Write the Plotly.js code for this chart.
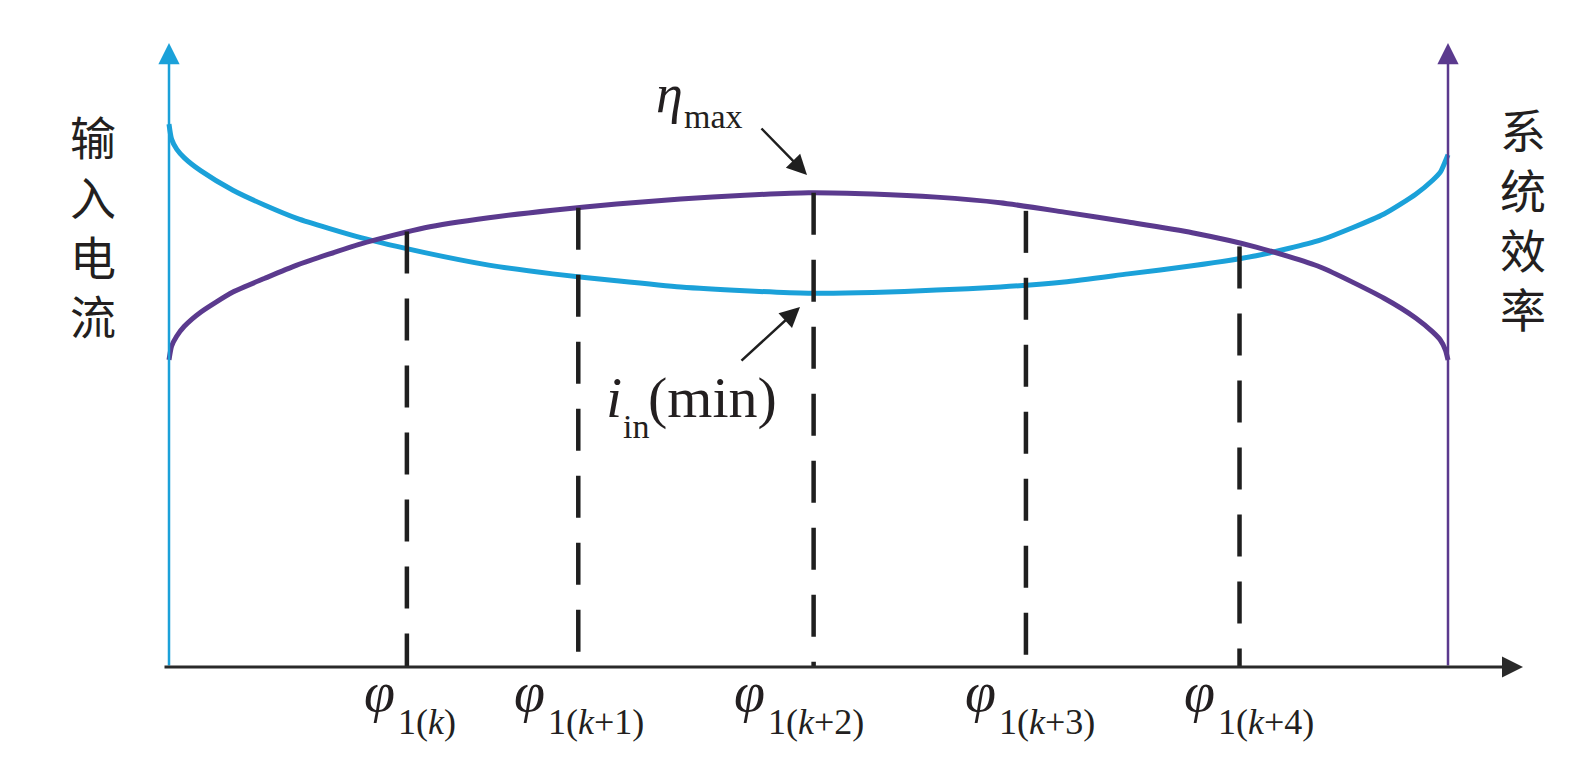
<!DOCTYPE html>
<html><head><meta charset="utf-8">
<script src="https://cdn.plot.ly/plotly-3.0.1.min.js"></script>
<style>html,body{margin:0;padding:0;background:#fff;} #chart{width:1592px;height:763px;}</style>
</head><body><div id="chart"></div>
<script>
// ---- data (phi in axis units: left axis = 0, right axis = 10) ----
const phiGrid = [0,0.02,0.06,0.12,0.25,0.5,0.75,1,1.5,2,2.5,3,3.5,4,4.5,5,5.5,6,6.5,7,7.5,8,8.5,9,9.5,9.75,9.88,9.94,9.98,10];
const inputCurrent = [8.70,8.46,8.30,8.16,7.95,7.64,7.40,7.19,6.88,6.64,6.44,6.30,6.19,6.09,6.03,5.99,6.00,6.04,6.09,6.17,6.30,6.43,6.59,6.84,7.26,7.58,7.80,7.93,8.11,8.21];
const efficiency   = [4.92,5.14,5.30,5.46,5.69,6.01,6.23,6.44,6.78,7.04,7.20,7.32,7.42,7.50,7.56,7.60,7.58,7.53,7.44,7.29,7.13,6.96,6.73,6.41,5.91,5.59,5.37,5.24,5.08,4.92];
const markPhi = [1.86, 3.20, 5.04, 6.70, 8.37];
const markEta = [6.98, 7.36, 7.60, 7.31, 6.74];
const markLabels = ['1(<i>k</i>)','1(<i>k</i>+1)','1(<i>k</i>+2)','1(<i>k</i>+3)','1(<i>k</i>+4)'];
const leftTitle = ['输','入','电','流'];
const rightTitle = ['系','统','效','率'];

// ---- layout geometry ----
const W = 1592, H = 763;
const X0 = 169, UX = 127.9;   // px of phi=0, px per unit
const Y0 = 667, UY = 62.4;    // px of value 0, px per unit
const X = px => (px - X0) / UX;
const Y = py => (Y0 - py) / UY;
const labelShiftPx = [-44, -65, -81, -62, -57];  // left edge of each phi label relative to its line

const cBlue = '#1ba1d9', cPurple = '#5b3a8e', cDark = '#1f1f1f', cText = '#231f20';
const serif = 'Liberation Serif, Times New Roman, serif';
const cjk = 'Noto Sans CJK SC, sans-serif';

const traces = [
  {x: phiGrid, y: inputCurrent, mode: 'lines', line: {color: cBlue, width: 5, shape: 'spline', smoothing: 0.6}, hoverinfo: 'skip'},
  {x: phiGrid, y: efficiency, mode: 'lines', line: {color: cPurple, width: 5, shape: 'spline', smoothing: 0.6}, hoverinfo: 'skip'}
];
markPhi.forEach((p, i) => {
  traces.push({x: [p, p], y: [markEta[i], 0], mode: 'lines',
    line: {color: cDark, width: 4.5, dash: '42px,25px'}, hoverinfo: 'skip'});
});

const ann = [];
function arrow(x, y, ax, ay, color, w, size) {
  ann.push({x, y, ax, ay, xref: 'x', yref: 'y', axref: 'x', ayref: 'y', text: '',
    showarrow: true, arrowhead: 2, arrowsize: size, arrowwidth: w, arrowcolor: color, standoff: 0, startstandoff: 0});
}
// axes
arrow(0, Y(43), 0, 0, cBlue, 2.5, 1.7);
arrow(10, Y(43), 10, 0, cPurple, 2.5, 1.7);
arrow(X(1523), 0, X(163), 0, '#2a2a2a', 3, 1.4);
// pointer arrows
arrow(X(807), Y(175), X(760), Y(127), cDark, 2.5, 1.6);
arrow(X(800), Y(307), X(740), Y(362), cDark, 2.5, 1.6);

function txt(text, pxX, pyC, size, xanchor, family) {
  ann.push({x: X(pxX), y: Y(pyC), xref: 'x', yref: 'y', text, showarrow: false,
    xanchor, yanchor: 'middle', borderpad: 0, font: {family: family || serif, size, color: cText}});
}

// phi labels
const phiSize = 56, subSize = 36;
markPhi.forEach((p, i) => {
  const left = X0 + p * UX + labelShiftPx[i];
  txt('<i>φ</i>', left, 692, phiSize, 'left');
  txt(markLabels[i], left + 34, 722, subSize, 'left');
});

// eta max
txt('<i>η</i>', 684, 94, 54, 'right');
txt('max', 683, 116, 34, 'left');
// i_in(min)
txt('<i>i</i>', 623, 397, 58, 'right');
txt('in', 622, 426, 34, 'left');
txt('(min)', 647, 397, 58, 'left');

// vertical Chinese titles (one text block each)
ann.push({x: X(92.5), y: Y(224), xref: 'x', yref: 'y', text: leftTitle.join('<br>'), showarrow: false,
  xanchor: 'center', yanchor: 'middle', borderpad: 0, font: {family: cjk, size: 46, color: cText}});
ann.push({x: X(1523), y: Y(217), xref: 'x', yref: 'y', text: rightTitle.join('<br>'), showarrow: false,
  xanchor: 'center', yanchor: 'middle', borderpad: 0, font: {family: cjk, size: 46, color: cText}});

const hid = {visible: false, fixedrange: true};
const layout = {
  width: W, height: H, margin: {l: 0, r: 0, t: 0, b: 0},
  paper_bgcolor: '#fff', plot_bgcolor: '#fff', showlegend: false,
  xaxis: Object.assign({range: [X(0), X(W)]}, hid),
  yaxis: Object.assign({range: [Y(H), Y(0)]}, hid),
  annotations: ann
};
Plotly.newPlot('chart', traces, layout, {staticPlot: true, displayModeBar: false});
</script></body></html>
